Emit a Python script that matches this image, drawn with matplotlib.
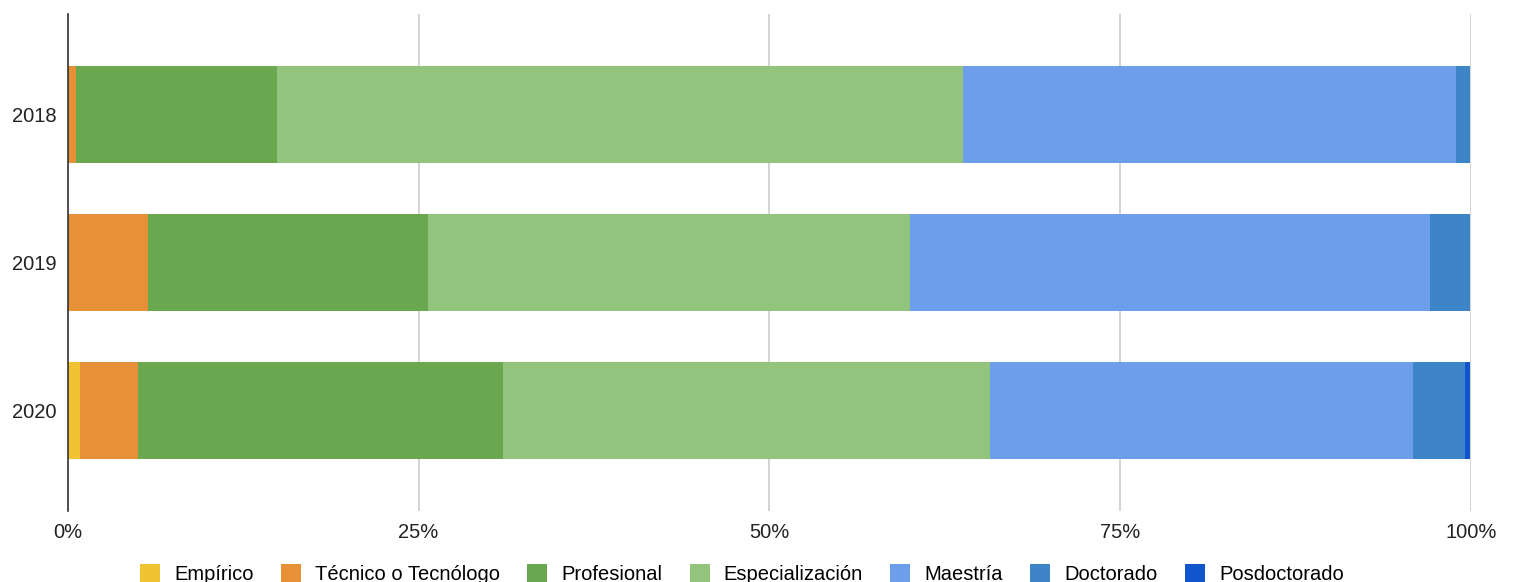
import numpy as np
import matplotlib.pyplot as plt
from matplotlib.ticker import FuncFormatter

plt.rcParams['font.family'] = ['Liberation Sans', 'DejaVu Sans']

# Data (percent of each year)
years = ['2018', '2019', '2020']
levels = ['Empírico', 'Técnico o Tecnólogo', 'Profesional', 'Especialización',
          'Maestría', 'Doctorado', 'Posdoctorado']
empirico = [0.0, 0.0, 0.9]
tecnico = [0.57, 5.74, 4.13]
profesional = [14.34, 19.92, 25.98]
especializacion = [48.86, 34.33, 34.69]
maestria = [35.19, 37.11, 30.2]
doctorado = [1.0, 2.85, 3.65]
posdoctorado = [0.0, 0.0, 0.41]

colors = ['#f1c232', '#e69138', '#6aa84f', '#93c47d', '#6d9eeb', '#3d85c6', '#1155cc']

series = [empirico, tecnico, profesional, especializacion, maestria, doctorado, posdoctorado]

fig = plt.figure(figsize=(15.14, 5.82), dpi=100)
ax = fig.add_axes([0.0447, 0.122, 0.9269, 0.854])

y = np.arange(len(years))
left = np.zeros(len(years))
for name, vals, c in zip(levels, series, colors):
    vals = np.array(vals)
    ax.barh(y, vals, left=left, height=0.655, color=c, label=name, linewidth=0)
    left += vals

ax.set_xlim(0, 100)
ax.set_ylim(2.676, -0.676)
ax.set_yticks(y)
ax.set_yticklabels(years)
ax.set_xticks([0, 25, 50, 75, 100])
ax.xaxis.set_major_formatter(FuncFormatter(lambda v, p: f'{v:.0f}%'))
ax.grid(axis='x', color='#cccccc', linewidth=1.2)
ax.set_axisbelow(True)
for s in ['top', 'right', 'bottom']:
    ax.spines[s].set_visible(False)
ax.spines['left'].set_color('#333333')
ax.spines['left'].set_linewidth(1.2)
ax.tick_params(axis='both', length=0, labelsize=14.5, colors='#222222')
ax.tick_params(axis='x', pad=9)
ax.tick_params(axis='y', pad=7.7)

fig.legend(loc='center', bbox_to_anchor=(0.490, 0.013), ncol=7, frameon=False,
           fontsize=14.5, handlelength=1.0, handleheight=1.0,
           handletextpad=0.7, columnspacing=1.35)

fig.savefig('out.png', dpi=100)
